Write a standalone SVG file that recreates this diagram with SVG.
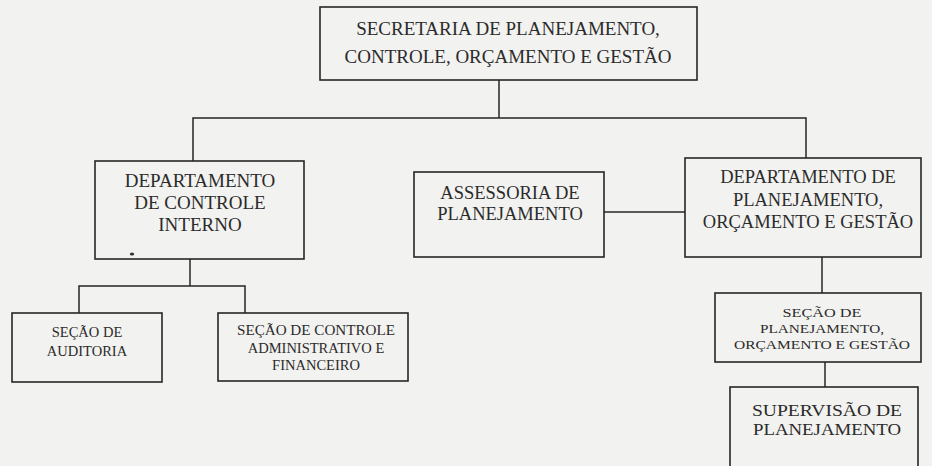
<svg xmlns="http://www.w3.org/2000/svg" width="932" height="466" viewBox="0 0 932 466">
<style>
.box{fill:none;stroke:#262626;stroke-width:1.6}
.ln{fill:none;stroke:#262626;stroke-width:1.5}
text{font-family:"Liberation Serif","DejaVu Serif","Times New Roman",serif;fill:#2b2b2b;text-anchor:middle}
.b{font-size:19px}
.m{font-size:18.5px}
.s{font-size:14.5px}
.t{font-size:13.5px}
.v{font-size:17.5px}
</style>
<rect width="932" height="466" fill="#f2f2f0"/>
<g id="connectors">
<polyline class="ln" points="499,80 499,118"/>
<polyline class="ln" points="193,161 193,118 806,118 806,158"/>
<polyline class="ln" points="190,259 190,286"/>
<polyline class="ln" points="79,313 79,286 245,286 245,313"/>
<polyline class="ln" points="604,212 685,212"/>
<polyline class="ln" points="822,257 822,293"/>
<polyline class="ln" points="825,362 825,387"/>
</g>
<g id="secretaria">
<rect class="box" x="320" y="7" width="377" height="73"/>
<text class="b" x="508" y="35">SECRETARIA DE PLANEJAMENTO,</text>
<text class="b" x="508" y="63">CONTROLE, ORÇAMENTO E GESTÃO</text>
</g>
<g id="dep-controle">
<rect class="box" x="95" y="161" width="209" height="98"/>
<text class="b" x="200" y="187">DEPARTAMENTO</text>
<text class="b" x="200" y="209">DE CONTROLE</text>
<text class="b" x="200" y="231">INTERNO</text>
<ellipse cx="132" cy="254" rx="2.2" ry="1.6" fill="#333"/>
</g>
<g id="assessoria">
<rect class="box" x="414" y="172" width="190" height="85"/>
<text class="m" x="510" y="199">ASSESSORIA DE</text>
<text class="m" x="510" y="220">PLANEJAMENTO</text>
</g>
<g id="dep-planejamento">
<rect class="box" x="685" y="158" width="236" height="99"/>
<text class="m" x="808" y="183">DEPARTAMENTO DE</text>
<text class="m" x="808" y="206">PLANEJAMENTO,</text>
<text class="m" x="808" y="228">ORÇAMENTO E GESTÃO</text>
</g>
<g id="secao-auditoria">
<rect class="box" x="12" y="313" width="150" height="69"/>
<text class="s" x="87" y="337">SEÇÃO DE</text>
<text class="s" x="87" y="356">AUDITORIA</text>
</g>
<g id="secao-controle">
<rect class="box" x="218" y="313" width="190" height="68"/>
<text class="s" x="316" y="335" textLength="158" lengthAdjust="spacingAndGlyphs">SEÇÃO DE CONTROLE</text>
<text class="s" x="316" y="353">ADMINISTRATIVO E</text>
<text class="s" x="316" y="370">FINANCEIRO</text>
</g>
<g id="secao-planejamento">
<rect class="box" x="715" y="293" width="206" height="69"/>
<text class="t" x="822" y="317" textLength="79" lengthAdjust="spacingAndGlyphs">SEÇÃO DE</text>
<text class="t" x="822" y="333" textLength="124" lengthAdjust="spacingAndGlyphs">PLANEJAMENTO,</text>
<text class="t" x="822" y="349" textLength="176" lengthAdjust="spacingAndGlyphs">ORÇAMENTO E GESTÃO</text>
</g>
<g id="supervisao">
<rect class="box" x="730" y="387" width="188" height="100"/>
<text class="v" x="827" y="416" textLength="150" lengthAdjust="spacingAndGlyphs">SUPERVISÃO DE</text>
<text class="v" x="827" y="435" textLength="148" lengthAdjust="spacingAndGlyphs">PLANEJAMENTO</text>
</g>
</svg>
